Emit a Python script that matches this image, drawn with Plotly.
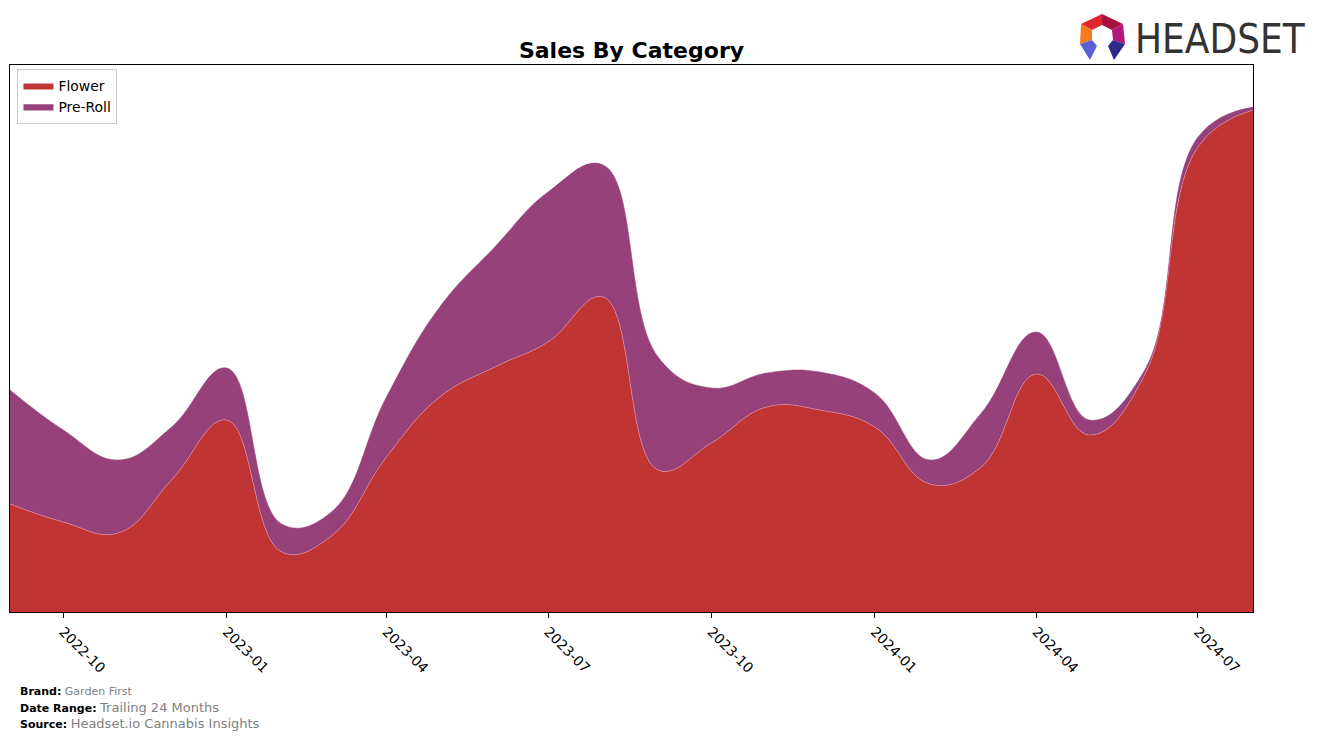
import plotly.graph_objects as go

months = ["2022-09-01", "2022-10-01", "2022-11-01", "2022-12-01", "2023-01-01", "2023-02-01",
          "2023-03-01", "2023-04-01", "2023-05-01", "2023-06-01", "2023-07-01", "2023-08-01",
          "2023-09-01", "2023-10-01", "2023-11-01", "2023-12-01", "2024-01-01", "2024-02-01",
          "2024-03-01", "2024-04-01", "2024-05-01", "2024-06-01", "2024-07-01", "2024-08-01"]
flower = [108, 90, 79, 132, 192, 60, 76, 155, 215, 245, 270, 315,
          142, 169, 205, 202, 185, 128, 145, 238, 177, 237, 465, 502]
preroll = [114, 92, 73, 53, 52, 28, 24, 60, 90, 120, 150, 132,
           113, 55, 34, 38, 34, 24, 54, 42, 15, 5, 10, 3]
tick_vals = ["2022-10-01", "2023-01-01", "2023-04-01", "2023-07-01",
             "2023-10-01", "2024-01-01", "2024-04-01", "2024-07-01"]
tick_text = ["2022-10", "2023-01", "2023-04", "2023-07", "2023-10", "2024-01", "2024-04", "2024-07"]

FLOWER_C = "#C13434"
PREROLL_C = "#96417A"

fig = go.Figure()
fig.add_trace(go.Scatter(x=months, y=flower, name="Flower", stackgroup="one", mode="lines",
                         line=dict(shape="spline", smoothing=1.2, width=0.6, color="rgba(235,150,170,0.9)"),
                         fillcolor=FLOWER_C))
fig.add_trace(go.Scatter(x=months, y=preroll, name="Pre-Roll", stackgroup="one", mode="lines",
                         line=dict(shape="spline", smoothing=1.2, width=0.5, color=PREROLL_C),
                         fillcolor=PREROLL_C))

W, H = 1317, 739
L, R, T, B = 10, 1253, 65, 612


def px(x):
    return (x - L) / (R - L)


def py(y):
    return (B - y) / (B - T)


def poly(pts, color):
    d = "M " + " L ".join(f"{px(a):.5f},{py(b):.5f}" for a, b in pts) + " Z"
    return dict(type="path", xref="paper", yref="paper", path=d, fillcolor=color,
                line=dict(width=0), layer="above")


shapes = [
    poly([(1081, 24), (1102, 14), (1102, 25), (1092, 30)], "#E0262F"),
    poly([(1102, 14), (1123, 24), (1112, 30), (1102, 25)], "#A8123E"),
    poly([(1081, 24), (1092, 30), (1092, 40), (1080, 44)], "#F47A20"),
    poly([(1123, 24), (1125, 44), (1113, 40), (1112, 30)], "#B5177F"),
    poly([(1080, 44), (1092, 40), (1097, 46), (1090, 60)], "#5B5FD6"),
    poly([(1125, 44), (1113, 40), (1108, 46), (1114, 60)], "#2E2A8C"),
]

annotations = [
    dict(text="HEADSET", x=px(1133), y=py(39), xref="paper", yref="paper", xanchor="left",
         yanchor="middle", showarrow=False,
         font=dict(family="DejaVu Sans Condensed, sans-serif", size=40, color="#333333")),
    dict(text="<b>Brand:</b> <span style='color:#808080'>Garden First</span>", x=px(18), y=py(691),
         xref="paper", yref="paper", xanchor="left", yanchor="middle", showarrow=False,
         font=dict(family="DejaVu Sans", size=11, color="black")),
    dict(text="<b>Date Range:</b> <span style='color:#808080;font-size:13px'>Trailing 24 Months</span>",
         x=px(18), y=py(707), xref="paper", yref="paper", xanchor="left", yanchor="middle", showarrow=False,
         font=dict(family="DejaVu Sans", size=11, color="black")),
    dict(text="<b>Source:</b> <span style='color:#808080;font-size:13px'>Headset.io Cannabis Insights</span>",
         x=px(18), y=py(723), xref="paper", yref="paper", xanchor="left", yanchor="middle", showarrow=False,
         font=dict(family="DejaVu Sans", size=11, color="black")),
]

fig.update_layout(
    width=W, height=H,
    margin=dict(l=L, r=W - R, t=T, b=H - B, pad=0),
    paper_bgcolor="white", plot_bgcolor="white",
    title=dict(text="<b>Sales By Category</b>", x=px(631.5), xref="paper", xanchor="center",
               y=1 - 50 / H, yanchor="middle", font=dict(family="DejaVu Sans", size=22, color="black")),
    font=dict(family="DejaVu Sans", color="black"),
    showlegend=True,
    legend=dict(x=0.006, y=py(69), xanchor="left", yanchor="top", bgcolor="white",
                bordercolor="#CCCCCC", borderwidth=1, font=dict(size=13.9, family="DejaVu Sans"),
                traceorder="normal", itemwidth=30),
    xaxis=dict(range=["2022-09-01", "2024-08-01"], tickmode="array", tickvals=tick_vals,
               ticktext=tick_text, tickangle=45, ticks="outside", ticklen=5, tickcolor="black",
               showgrid=False, zeroline=False, showline=True, mirror=True, linecolor="black",
               linewidth=1, tickfont=dict(family="DejaVu Sans", size=13.9, color="black")),
    yaxis=dict(range=[0, 547], showticklabels=False, ticks="", showgrid=False, zeroline=False,
               showline=True, mirror=True, linecolor="black", linewidth=1),
    shapes=shapes,
    annotations=annotations,
)

fig.write_html("out.html")
